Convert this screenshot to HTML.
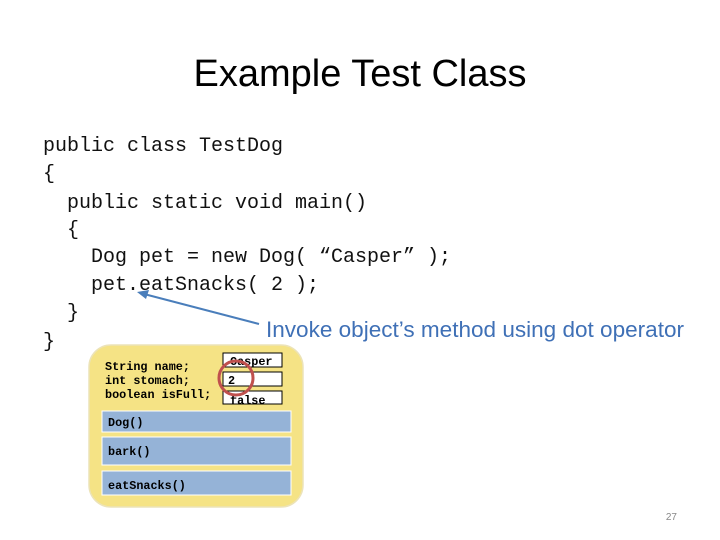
<!DOCTYPE html>
<html><head><meta charset="utf-8"><style>
html,body{margin:0;padding:0;background:#fff;}
svg{display:block}
</style></head><body>
<svg width="720" height="540" viewBox="0 0 720 540" xmlns="http://www.w3.org/2000/svg">
<rect width="720" height="540" fill="#fff"/>
<text x="360" y="86" text-anchor="middle" font-family="Liberation Sans, sans-serif" font-size="38" fill="#000">Example Test Class</text>
<g font-family="Liberation Mono, monospace" font-size="20" fill="#111" xml:space="preserve">
<text x="43" y="151">public class TestDog</text>
<text x="43" y="179">{</text>
<text x="67" y="208">public static void main()</text>
<text x="67" y="235">{</text>
<text x="91" y="262">Dog pet = new Dog( “Casper” );</text>
<text x="91" y="290">pet.eatSnacks( 2 );</text>
<text x="67" y="318">}</text>
<text x="43" y="347">}</text>
</g>
<line x1="259" y1="324" x2="144" y2="294" stroke="#4a7ebb" stroke-width="2"/>
<polygon points="137,292 149,290 146,299" fill="#4a7ebb"/>
<text x="266" y="337" font-family="Liberation Sans, sans-serif" font-size="22.5" fill="#3f70b6" textLength="418" lengthAdjust="spacingAndGlyphs">Invoke object’s method using dot operator</text>
<rect x="89" y="345" width="214" height="162" rx="22" fill="#f5e385" stroke="#ece3b8" stroke-width="1.5"/>
<g font-family="Liberation Mono, monospace" font-size="11.8" font-weight="bold" fill="#000">
<text x="105" y="370">String name;</text>
<text x="105" y="384">int stomach;</text>
<text x="105" y="398">boolean isFull;</text>
</g>
<g fill="#fff" stroke="#000" stroke-width="1">
<rect x="223" y="353" width="59" height="14"/>
<rect x="223" y="372" width="59" height="14"/>
<rect x="223" y="391" width="59" height="13"/>
</g>
<g font-family="Liberation Mono, monospace" font-size="11.8" font-weight="bold" fill="#000">
<text x="230" y="365">Casper</text>
<text x="228" y="384">2</text>
<text x="230" y="404">false</text>
</g>
<circle cx="236" cy="378" r="17" fill="none" stroke="#c0504d" stroke-width="3"/>
<g fill="#95b3d7" stroke="#fff" stroke-width="1">
<rect x="102" y="411" width="189" height="21"/>
<rect x="102" y="437" width="189" height="28"/>
<rect x="102" y="471" width="189" height="24"/>
</g>
<g font-family="Liberation Mono, monospace" font-size="11.8" font-weight="bold" fill="#000">
<text x="108" y="426">Dog()</text>
<text x="108" y="455">bark()</text>
<text x="108" y="489">eatSnacks()</text>
</g>
<text x="677" y="520" text-anchor="end" font-family="Liberation Sans, sans-serif" font-size="10" fill="#888">27</text>
</svg>
</body></html>
